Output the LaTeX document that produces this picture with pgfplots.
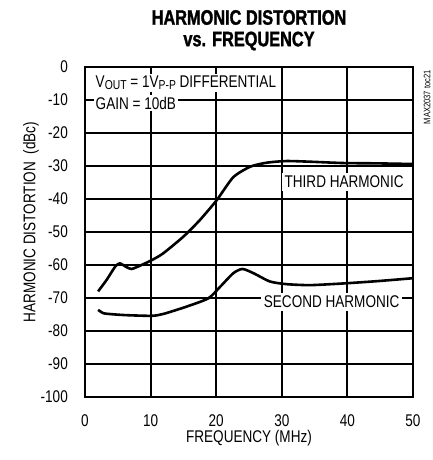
\documentclass[border=0pt]{standalone}
\usepackage{fontspec}
\setmainfont{Liberation Sans}[FakeStretch=0.8]
\newfontfamily\titlefont{Liberation Sans}[FakeStretch=0.78, BoldFeatures={FakeBold=1.5}]
\usepackage{pgfplots}
\pgfplotsset{compat=1.18}

\newcommand{\lbl}{\fontsize{17}{18}\selectfont}
\newcommand{\sub}[1]{\raisebox{-0.3ex}{\fontsize{13}{13}\selectfont #1}}

% harmonic distortion vs frequency
\pgfplotstableread{
f     hd3
2     -68
3.3   -64.5
4.6   -60.5
5.3   -59.5
6.3   -60.6
7.1   -61.2
8.4   -60.2
10.2  -58.5
11.9  -56.5
15    -51.4
17.5  -46.4
20.1  -40.3
22.6  -33.4
25.2  -30.2
27.7  -29
30.7  -28.5
34.3  -28.7
39.3  -29.1
44.4  -29.2
50    -29.4
}\thirdtab
\pgfplotstableread{
f     hd2
2     -73.6
2.8   -74.6
4     -74.9
6.3   -75.2
10.2  -75.4
12    -74.8
15.5  -72.6
18.8  -70.1
20.6  -66.6
22.6  -62.5
24    -61.2
25.7  -62.5
28.2  -65
30.7  -65.8
34.3  -66.1
39.3  -65.6
44.5  -64.9
50    -64
}\secondtab

\begin{document}
\begin{tikzpicture}
  \path[use as bounding box] (-85bp,-63bp) rectangle (348bp,397bp);
  \begin{axis}[
      scale only axis,
      width=328bp, height=330bp,
      xmin=0, xmax=50, ymin=-100, ymax=0,
      xtick={0,10,...,50},
      ytick={-100,-90,...,0},
      xticklabels={0,10,20,30,40,50},
      yticklabels={-100,-90,-80,-70,-60,-50,-40,-30,-20,-10,0},
      grid=major,
      major grid style={draw=black, line width=2bp},
      major tick length=0pt,
      axis line style={line width=2.5bp},
      tick label style={font=\lbl, inner sep=0pt},
      yticklabel style={anchor=east, xshift=-17bp},
      xticklabel style={anchor=north, yshift=-17bp},
      label style={font=\lbl},
      xlabel={FREQUENCY (MHz)},
      ylabel={HARMONIC DISTORTION\ \ (dBc)},
      xlabel style={at={(axis description cs:0.5,-0.125)}, anchor=center},
      ylabel style={at={(axis description cs:-0.165,0.53)}, anchor=center},
    ]
    \addplot[black, line width=2.6bp, smooth, tension=0.4] table[x=f, y=hd3] {\thirdtab};
    \addplot[black, line width=2.6bp, smooth, tension=0.4] table[x=f, y=hd2] {\secondtab};

    \node[font=\lbl, fill=white, inner sep=2bp, anchor=west] at (axis cs:1.3,-4.8)
      {V\sub{OUT} = 1V\sub{P-P} DIFFERENTIAL};
    \node[font=\lbl, fill=white, inner sep=2bp, anchor=west] at (axis cs:1.3,-10.9) {GAIN = 10dB};
    \node[font=\lbl, fill=white, inner sep=3bp] at (axis cs:39.5,-34.7) {THIRD HARMONIC};
    \node[font=\lbl, fill=white, inner sep=3bp] at (axis cs:37.6,-71.1) {SECOND HARMONIC};
  \end{axis}

  \node[font=\titlefont\bfseries\fontsize{21}{22}\selectfont] at (164bp,379.5bp) {HARMONIC DISTORTION};
  \node[font=\titlefont\bfseries\fontsize{21}{22}\selectfont] at (164bp,356bp) {vs. FREQUENCY};
  \node[font=\fontsize{9.5}{10}\selectfont, rotate=90, anchor=east, inner sep=0pt] at (342bp,327bp) {MAX2037 toc21};
\end{tikzpicture}
\end{document}
